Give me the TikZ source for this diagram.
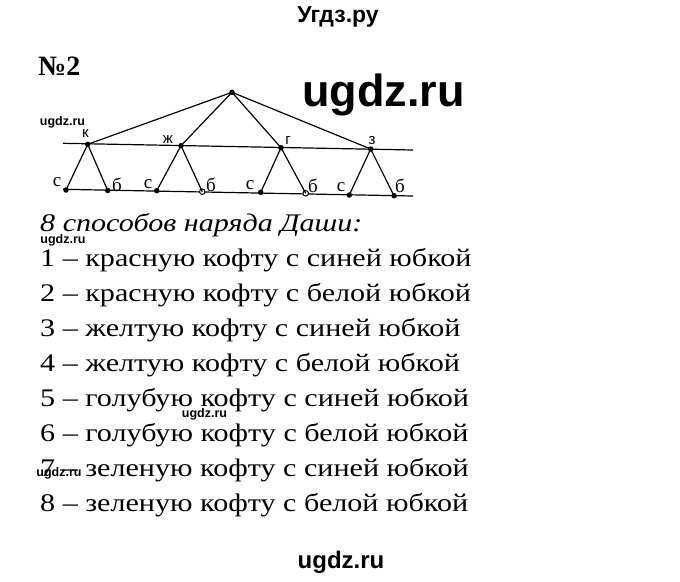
\documentclass[tikz,border=0pt]{standalone}
\usepackage{fontspec}
\setmainfont{Liberation Serif}
\newfontfamily\wm{Liberation Sans}
\newfontfamily\txtfont[FakeStretch=1.19]{Liberation Serif}
\begin{document}
\begin{tikzpicture}[x=1pt,y=-1pt,
  dot/.style={circle,fill=black,inner sep=0pt,minimum size=5.5pt},
  odot/.style={circle,draw=black,fill=white,line width=1pt,inner sep=0pt,minimum size=5.5pt},
  edge/.style={line width=1.2pt},
  toplab/.style={font=\wm\fontsize{15}{15}\selectfont,inner sep=0pt},
  botlab/.style={font=\fontsize{19}{19}\selectfont,inner sep=0pt},
  txt/.style={anchor=base west,inner sep=0pt,font=\txtfont\fontsize{25.3}{25.3}\selectfont},
  wmark/.style={font=\wm\bfseries\fontsize{12.5}{12.5}\selectfont,inner sep=0pt}]
\useasboundingbox (0,0) rectangle (680,581);
% headers
\node[font=\wm\bfseries\fontsize{23}{23}\selectfont,anchor=base,inner sep=0pt] (hdr) at (338,22) {Угдз.ру};
\node[font=\bfseries\fontsize{28}{28}\selectfont,anchor=base west,inner sep=0pt] (num) at (38,75) {№2};
\node[font=\wm\bfseries\fontsize{45}{45}\selectfont,anchor=base west,inner sep=0pt] (big) at (302,106.5) {ugdz.ru};
% lines
\coordinate (u1) at (63,143.3);
\coordinate (u2) at (413,150);
\coordinate (l1) at (63,189.3);
\coordinate (l2) at (413,196);
\draw[edge] (u1) -- (u2);
\draw[edge] (l1) -- (l2);
% nodes
\node[dot] (root) at (232,92.3) {};
\node[dot] (k) at (87.7,144.3) {};
\node[dot] (zh) at (181,145.7) {};
\node[dot] (g) at (281,147.7) {};
\node[dot] (z) at (370.7,149) {};
\node[dot] (ks) at (66,190) {};
\node[dot] (kb) at (107.7,190.5) {};
\node[dot] (zhs) at (156.7,190.7) {};
\node[odot] (zhb) at (202.3,191.7) {};
\node[dot] (gs) at (260.7,192.3) {};
\node[odot] (gb) at (305.7,193.3) {};
\node[dot] (zs) at (349.3,195) {};
\node[dot] (zb) at (394,195.7) {};
\foreach \n in {k,zh,g,z} \draw[edge] (root.center) -- (\n.center);
\foreach \n in {k,zh,g,z} {\draw[edge] (\n.center) -- (\n s.center); \draw[edge] (\n.center) -- (\n b.center);}
% labels
\node[toplab] (lk) at (85.5,134) {к};
\node[toplab] (lzh) at (168,140) {ж};
\node[toplab] (lg) at (288,140.5) {г};
\node[toplab] (lz) at (372,141) {з};
\node[botlab] (s1) at (57,182) {с};
\node[botlab] (b1) at (117,185) {б};
\node[botlab] (s2) at (148,184) {с};
\node[botlab] (b2) at (211,185) {б};
\node[botlab] (s3) at (250,185.5) {с};
\node[botlab] (b3) at (313,185.5) {б};
\node[botlab] (s4) at (341,187) {с};
\node[botlab] (b4) at (400,186) {б};
% text
\node[txt] (t0) at (40,231.7) {\itshape 8 способов наряда Даши:};
\node[txt] (t1) at (40,266.7) {1 – красную кофту с синей юбкой};
\node[txt] (t2) at (40,301.7) {2 – красную кофту с белой юбкой};
\node[txt] (t3) at (40,336.7) {3 – желтую кофту с синей юбкой};
\node[txt] (t4) at (40,371.7) {4 – желтую кофту с белой юбкой};
\node[txt] (t5) at (40,406.7) {5 – голубую кофту с синей юбкой};
\node[txt] (t6) at (40,441.7) {6 – голубую кофту с белой юбкой};
\node[txt] (t7) at (40,476.7) {7 – зеленую кофту с синей юбкой};
\node[txt] (t8) at (40,511.7) {8 – зеленую кофту с белой юбкой};
% watermarks
\node[wmark] (m1) at (62.5,122) {ugdz.ru};
\node[wmark] (m2) at (63,240.5) {ugdz.ru};
\node[wmark] (m3) at (204.5,414.5) {ugdz.ru};
\node[wmark] (m4) at (59,473) {ugdz.ru};
\node[font=\wm\bfseries\fontsize{24}{24}\selectfont,inner sep=0pt] (m5) at (341,562) {ugdz.ru};
\end{tikzpicture}
\end{document}
